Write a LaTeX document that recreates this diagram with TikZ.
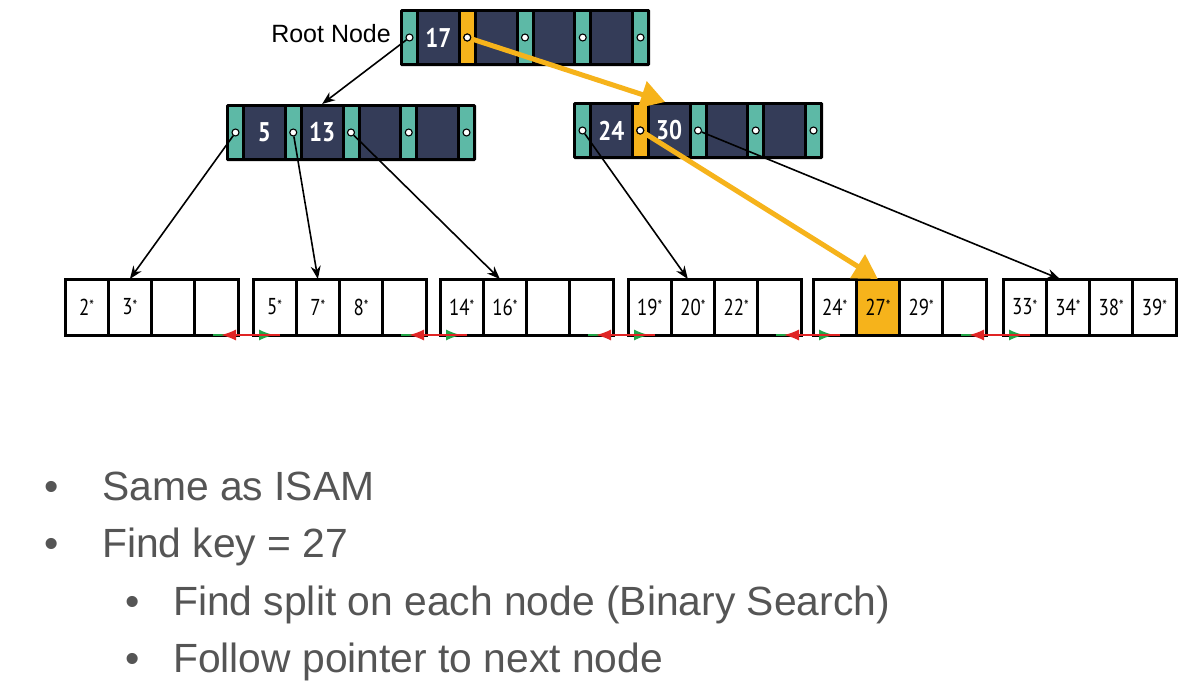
\documentclass[tikz,border=0pt]{standalone}
\usepackage{fontspec}
\setmainfont{Liberation Sans}
\newfontfamily\leaffont[FakeStretch=0.82]{PT Sans}
\newfontfamily\keyfont[FakeStretch=0.85]{PT Sans}
\usetikzlibrary{arrows.meta,calc}
\definecolor{navy}{HTML}{343C58}
\definecolor{tealc}{HTML}{5DB9A6}
\definecolor{orng}{HTML}{F6B31B}
\definecolor{txtgray}{HTML}{555555}
\definecolor{redc}{HTML}{E02424}
\definecolor{greenc}{HTML}{22A548}
\newcommand\skey[1]{#1\raisebox{0.3ex}{\fontsize{16}{16}\selectfont*}}
\newcommand\innode[6]{%
  \node[outerbox] (#1) at (#2,#3) {};
  \foreach \i in {1,...,5}{%
    \pgfmathsetmacro\sx{#2+3+(\i-1)*57.75+6.5}
    \node[stripcell] (#1-s\i) at (\sx,#3+28.5) {};
  }
  \pgfmathsetmacro\kx{#2+19+19.375}
  \node[keycell] (#1-k1) at (\kx,#3+28.5) {#4};
  \pgfmathsetmacro\kx{#2+19+57.75+19.375}
  \node[keycell] (#1-k2) at (\kx,#3+28.5) {#5};
  \pgfmathsetmacro\kx{#2+19+2*57.75+19.375}
  \node[keycell] (#1-k3) at (\kx,#3+28.5) {};
  \pgfmathsetmacro\kx{#2+19+3*57.75+19.375}
  \node[keycell] (#1-k4) at (\kx,#3+28.5) {};
  \ifnum#6>0 \node[stripcell,fill=orng] (#1-o) at (#1-s#6) {};\fi
  \foreach \i in {1,...,5}{%
    \node[ptr] (#1-p\i) at (#1-s\i) {};
  }
}
\newcommand\leafnode[6]{%
  \pgfmathsetmacro\cx{#2+21.625}
  \node[leafcell] (#1-1) at (\cx,307) {#3};
  \pgfmathsetmacro\cx{#2+21.625+43.25}
  \node[leafcell] (#1-2) at (\cx,307) {#4};
  \pgfmathsetmacro\cx{#2+21.625+2*43.25}
  \node[leafcell] (#1-3) at (\cx,307) {#5};
  \pgfmathsetmacro\cx{#2+21.625+3*43.25}
  \node[leafcell] (#1-4) at (\cx,307) {#6};
}
\begin{document}
\begin{tikzpicture}[x=1pt,y=-1pt,
  outerbox/.style={fill=black, rounded corners=1.5pt, minimum width=250pt, minimum height=57pt, anchor=north west, inner sep=0pt, outer sep=0pt},
  stripcell/.style={fill=tealc, minimum width=13pt, minimum height=51pt, inner sep=0pt},
  keycell/.style={fill=navy, minimum width=38.75pt, minimum height=51pt, inner sep=0pt, text=white, font=\keyfont\bfseries\fontsize{27}{27}\selectfont},
  ptr/.style={circle, draw=black, fill=white, line width=1.1pt, minimum size=7pt, inner sep=0pt},
  leafcell/.style={draw=black, line width=3pt, fill=white, minimum width=43.25pt, minimum height=56pt, inner sep=0pt, outer sep=0pt, font=\leaffont\fontsize{23}{23}\selectfont},
  blk/.style={draw=black, line width=1.6pt, -{Stealth[length=13pt,width=10pt]}},
  org/.style={draw=orng, line width=5pt, -{Triangle[length=24pt,width=27pt]}},
  grn/.style={draw=greenc, line width=1.5pt, -{Latex[length=15pt,width=11pt]}},
  rd/.style={draw=redc, line width=1.5pt, -{Latex[length=15pt,width=11pt]}},
  bultext/.style={inner sep=0pt, text=txtgray, font=\fontsize{40.8}{40.8}\selectfont}
]
\useasboundingbox (0,0) rectangle (1200,681);
\fill[white] (0,0) rectangle (1200,681);

\node[anchor=base east, inner sep=0pt, font=\fontsize{25}{25}\selectfont] (rootlabel) at (391,42) {Root Node};

\innode{root}{400}{9}{17}{}{2}
\innode{left}{226}{104}{5}{13}{0}
\innode{right}{573}{102}{24}{30}{2}

\leafnode{lfa}{65}{\skey{2}}{\skey{3}}{}{}
\leafnode{lfb}{253}{\skey{5}}{\skey{7}}{\skey{8}}{}
\leafnode{lfc}{440}{\skey{14}}{\skey{16}}{}{}
\leafnode{lfd}{628}{\skey{19}}{\skey{20}}{\skey{22}}{}
\leafnode{lfe}{813}{\skey{24}}{\skey{27}}{\skey{29}}{}
\leafnode{lff}{1003}{\skey{33}}{\skey{34}}{\skey{38}}{\skey{39}}
\node[leafcell, fill=orng] (hit) at (lfe-2) {\skey{27}};

% leaf sibling links
\foreach \a/\b in {lfa/lfb,lfb/lfc,lfc/lfd,lfd/lfe,lfe/lff}{
  \draw[grn] ($(\a-4.south east)+(-25,0)$) -- ($(\b-1.south west)+(21,0)$);
  \draw[rd] ($(\b-1.south west)+(27,0)$) -- ($(\a-4.south east)+(-17,0)$);
}

% tree pointers
\draw[blk] (root-p1) -- (left-k2 |- left.north);
\draw[blk] (left-p1) -- (lfa-2.north);
\draw[blk] (left-p2) -- (lfb-2.north);
\draw[blk] (left-p3) -- ($(lfc-2.north)+(-5,0)$);
\draw[blk] (right-p1) -- ($(lfd-2.north)+(-5,0)$);
\draw[blk] (right-p3) -- ($(lff-2.north)+(-8,0)$);
\draw[org] (root-p2) -- ($(right-k2 |- right.north)+(-4,0)$);
\draw[org] (right-p2) -- (hit.north);
\node[ptr] at (root-p2) {};
\node[ptr] at (right-p2) {};

% bullet text
\node[bultext, anchor=base] (b1) at (52,500) {•};
\node[bultext, anchor=base west] (t1) at (102,500) {Same as ISAM};
\node[bultext, anchor=base] (b2) at (52,557) {•};
\node[bultext, anchor=base west] (t2) at (102,557) {Find key = 27};
\node[bultext, anchor=base] (b3) at (133,615) {•};
\node[bultext, anchor=base west] (t3) at (173,615) {Find split on each node (Binary Search)};
\node[bultext, anchor=base] (b4) at (133,672) {•};
\node[bultext, anchor=base west] (t4) at (173,672) {Follow pointer to next node};
\end{tikzpicture}
\end{document}
